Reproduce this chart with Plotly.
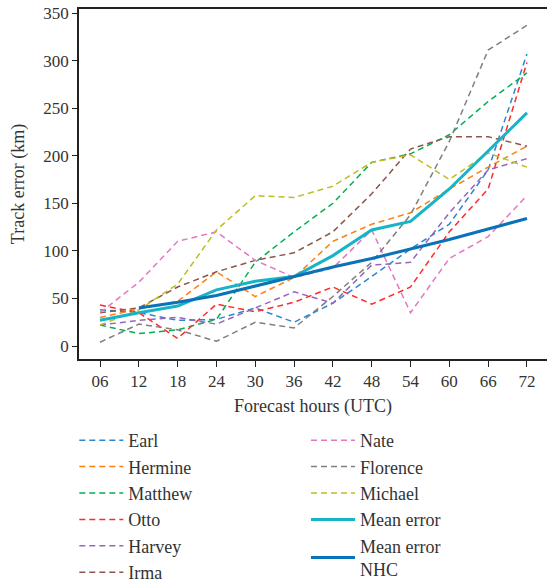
import plotly.graph_objects as go

hours = [6, 12, 18, 24, 30, 36, 42, 48, 54, 60, 66, 72]
hour_labels = ["06", "12", "18", "24", "30", "36", "42", "48", "54", "60", "66", "72"]

earl = [38, 35, 27, 28, 40, 25, 45, 73, 102, 128, 185, 307]
hermine = [30, 39, 47, 78, 52, 72, 110, 128, 140, 165, 188, 210]
matthew = [22, 13, 17, 28, 88, 120, 150, 193, 202, 222, 257, 287]
otto = [43, 35, 8, 44, 36, 46, 62, 44, 62, 120, 165, 298]
harvey = [22, 27, 30, 23, 40, 57, 45, 85, 88, 140, 185, 197]
irma = [35, 40, 62, 78, 90, 98, 120, 160, 207, 220, 220, 210]
nate = [35, 67, 110, 120, 90, 72, 82, 122, 35, 92, 115, 158]
florence = [4, 23, 17, 5, 25, 19, 52, 88, 138, 215, 311, 337]
michael = [22, 38, 65, 122, 158, 156, 168, 193, 201, 175, 203, 188]
mean_error = [27, 35, 42, 59, 68, 73, 95, 122, 131, 165, 205, 245]
nhc_hours = [12, 18, 24, 30, 36, 42, 48, 54, 60, 66, 72]
mean_nhc = [40, 46, 53, 63, 73, 83, 92, 102, 112, 123, 134]

FONT = "Liberation Serif"
TXT = "#333333"

storms = [
    ("Earl", earl, "#2a87d0", "legend"),
    ("Hermine", hermine, "#ff7f0e", "legend"),
    ("Matthew", matthew, "#00b050", "legend"),
    ("Otto", otto, "#ff2a2a", "legend"),
    ("Harvey", harvey, "#9467bd", "legend"),
    ("Irma", irma, "#8c564b", "legend"),
    ("Nate", nate, "#e377c2", "legend2"),
    ("Florence", florence, "#7f7f7f", "legend2"),
    ("Michael", michael, "#bcbd22", "legend2"),
]

fig = go.Figure()
for i, (name, vals, col, lg) in enumerate(storms):
    fig.add_trace(go.Scatter(
        x=hours, y=vals, mode="lines", name=name, legend=lg,
        legendgroup="g%d" % i,
        line=dict(color=col, width=1.5, dash="6px,4px"),
    ))

fig.add_trace(go.Scatter(
    x=hours, y=mean_error, mode="lines", name="Mean error", legend="legend2",
    legendgroup="m1", line=dict(color="#17b3c6", width=3),
))
fig.add_trace(go.Scatter(
    x=nhc_hours, y=mean_nhc, mode="lines", name="Mean error<br>NHC", legend="legend2",
    legendgroup="m2", line=dict(color="#0a72b8", width=3),
))

legend_common = dict(
    font=dict(family=FONT, size=18, color=TXT),
    bgcolor="rgba(0,0,0,0)",
    yanchor="top",
    xanchor="left",
    tracegroupgap=0,
    itemwidth=44,
)

fig.update_layout(
    width=547, height=582,
    margin=dict(l=79, r=0, t=9, b=223, autoexpand=False),
    plot_bgcolor="white",
    paper_bgcolor="white",
    font=dict(family=FONT, size=17, color=TXT),
    legend=dict(x=-0.01, y=-0.18, **legend_common),
    legend2=dict(x=0.485, y=-0.18, **legend_common),
    xaxis=dict(
        range=[2.75, 75.1],
        tickvals=hours, ticktext=hour_labels,
        showgrid=False, zeroline=False,
        showline=True, linecolor="#222222", linewidth=1.5, mirror=True,
        ticks="outside", ticklen=6, tickcolor="#222222",
        tickfont=dict(family=FONT, size=17, color=TXT),
        title=dict(text="Forecast hours (UTC)", font=dict(family=FONT, size=18, color=TXT), standoff=9),
    ),
    yaxis=dict(
        range=[-13.66, 354.2],
        tickvals=[0, 50, 100, 150, 200, 250, 300, 350],
        showgrid=False, zeroline=False,
        showline=True, linecolor="#222222", linewidth=1.5,
        ticks="outside", ticklen=5, tickcolor="#222222",
        tickfont=dict(family=FONT, size=17, color=TXT),
        title=dict(text="Track error (km)", font=dict(family=FONT, size=18, color=TXT), standoff=14),
    ),
)

fig.write_html("out.html")
